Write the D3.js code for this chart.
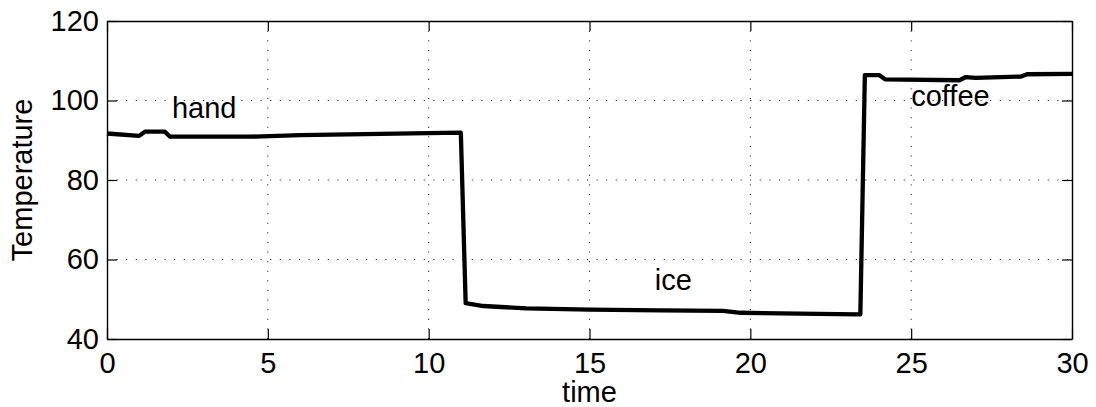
<!DOCTYPE html>
<html>
<head>
<meta charset="utf-8">
<script src="https://cdn.jsdelivr.net/npm/d3@7/dist/d3.min.js"></script>
<style>
    body { margin: 0; background: #fff; }
    svg { display: block; font-family: "Liberation Sans", Arial, sans-serif; }
</style>
</head>
<body>
<div id="chart"></div>
<script>
// data
const time = [0, 1.0, 1.18, 1.8, 1.96, 4.45, 6.0, 8.5, 10.97, 11.0,
    11.15, 11.7, 13.04, 15.0, 17.2, 19.15, 19.7, 21.5, 23.35, 23.42,
    23.56, 24.0, 24.2, 26.5, 26.7, 27.0, 28.4, 28.6, 30.0];
const temperature = [91.7, 91.1, 92.15, 92.15, 90.9, 90.9, 91.3, 91.6, 91.9, 91.9,
    49.0, 48.3, 47.7, 47.4, 47.2, 47.1, 46.6, 46.4, 46.2, 46.2,
    106.4, 106.4, 105.3, 105.1, 105.9, 105.7, 106.0, 106.6, 106.7];
const xTicks = [0, 5, 10, 15, 20, 25, 30];
const yTicks = [40, 60, 80, 100, 120];
const labels = [
    { text: "hand", t: 2.02, v: 95.6 },
    { text: "ice", t: 17.03, v: 52.3 },
    { text: "coffee", t: 25.0, v: 98.7 }
];

const width = 1096, height = 407;
const margin = { top: 21, right: 24, bottom: 68, left: 107 };
const w = width - margin.left - margin.right;
const h = height - margin.top - margin.bottom;
const fontSize = "29px";

const svg = d3.select("#chart").append("svg")
    .attr("width", width)
    .attr("height", height);

const g = svg.append("g")
    .attr("transform", `translate(${margin.left},${margin.top})`);

const x = d3.scaleLinear().domain([0, 30]).range([0, w]);
const y = d3.scaleLinear().domain([40, 120]).range([h, 0]);

// dotted grid
g.append("g").selectAll("line")
    .data(xTicks.slice(1, -1))
    .enter().append("line")
    .attr("x1", d => x(d)).attr("x2", d => x(d))
    .attr("y1", h).attr("y2", 0)
    .attr("stroke", "#000")
    .attr("stroke-width", 1)
    .attr("stroke-dasharray", "1,8.6");

g.append("g").selectAll("line")
    .data(yTicks.slice(1, -1))
    .enter().append("line")
    .attr("x1", 0).attr("x2", w)
    .attr("y1", d => y(d)).attr("y2", d => y(d))
    .attr("stroke", "#000")
    .attr("stroke-width", 1)
    .attr("stroke-dasharray", "1,8.6");

// axes, ticks pointing inward
const xAxis = g.append("g")
    .attr("transform", `translate(0,${h})`)
    .call(d3.axisBottom(x).tickValues(xTicks).tickSizeInner(-10).tickSizeOuter(0).tickPadding(13));
const yAxis = g.append("g")
    .call(d3.axisLeft(y).tickValues(yTicks).tickSizeInner(-10).tickSizeOuter(0).tickPadding(8));
const xTop = g.append("g")
    .call(d3.axisTop(x).tickValues(xTicks).tickSizeInner(-10).tickSizeOuter(0).tickFormat(""));
const yRight = g.append("g")
    .attr("transform", `translate(${w},0)`)
    .call(d3.axisRight(y).tickValues(yTicks).tickSizeInner(-10).tickSizeOuter(0).tickFormat(""));

[xAxis, yAxis, xTop, yRight].forEach(a => {
    a.select(".domain").attr("stroke", "#000").attr("stroke-width", 1.4);
    a.selectAll(".tick line").attr("stroke", "#000").attr("stroke-width", 1.2);
    a.selectAll(".tick text")
        .attr("fill", "#000")
        .style("font-size", fontSize)
        .style("font-family", "'Liberation Sans', Arial, sans-serif");
});

// the temperature trace
const line = d3.line()
    .x((d, i) => x(time[i]))
    .y(d => y(d));

g.append("path")
    .datum(temperature)
    .attr("fill", "none")
    .attr("stroke", "#000")
    .attr("stroke-width", 4.3)
    .attr("stroke-linejoin", "round")
    .attr("d", line);

// in-plot labels
g.selectAll(".lbl")
    .data(labels)
    .enter().append("text")
    .attr("class", "lbl")
    .attr("x", d => x(d.t))
    .attr("y", d => y(d.v))
    .style("font-size", fontSize)
    .text(d => d.text);

// axis titles
svg.append("text")
    .attr("x", margin.left + w / 2)
    .attr("y", 402)
    .attr("text-anchor", "middle")
    .style("font-size", fontSize)
    .text("time");

svg.append("text")
    .attr("transform", `translate(32,${margin.top + h / 2}) rotate(-90)`)
    .attr("text-anchor", "middle")
    .style("font-size", fontSize)
    .text("Temperature");
</script>
</body>
</html>
